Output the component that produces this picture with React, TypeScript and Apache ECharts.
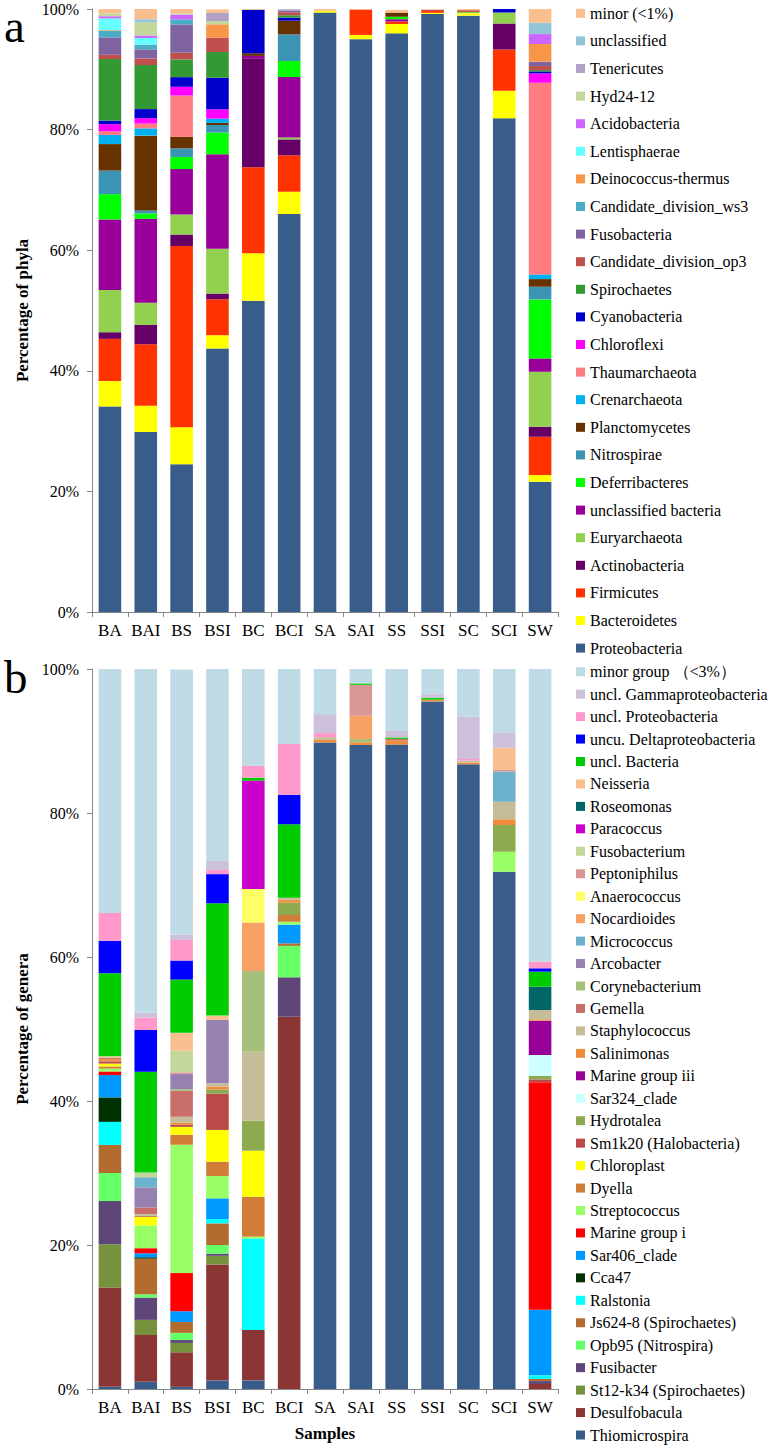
import React, { useEffect, useRef } from "react";
import * as echarts from "echarts";

const samples = ["BA", "BAI", "BS", "BSI", "BC", "BCI", "SA", "SAI", "SS", "SSI", "SC", "SCI", "SW"];

// ---------- Panel a: phyla (stack order bottom -> top) ----------
const proteobacteria = [34.1, 29.85, 24.5, 43.7, 51.6, 66.0, 99.4, 95.0, 95.96, 99.17, 98.9, 81.9, 21.6];
const bacteroidetes = [4.2, 4.35, 6.15, 2.2, 7.9, 3.7, 0.3, 0.7, 1.55, 0.2, 0.4, 4.54, 1.11];
const firmicutes = [7.0, 10.2, 30.05, 5.96, 14.26, 6.03, 0, 4.2, 0.4, 0.3, 0, 6.84, 6.35];
const actinobacteria = [1.1, 3.2, 1.9, 0.95, 18.06, 2.65, 0, 0, 0, 0, 0, 4.3, 1.66];
const euryarchaeota = [7.0, 3.7, 3.3, 7.45, 0, 0.33, 0, 0, 0, 0, 0.2, 1.85, 9.12];
const unclassifiedBacteria = [11.7, 13.9, 7.55, 15.65, 0.4, 10.0, 0, 0, 0.4, 0, 0, 0, 2.22];
const deferribacteres = [4.2, 0.9, 2.0, 3.6, 0, 2.66, 0, 0, 0.4, 0, 0, 0, 9.78];
const nitrospirae = [3.9, 0.5, 1.45, 1.25, 0, 4.42, 0, 0, 0, 0, 0, 0, 2.1];
const planctomycetes = [4.4, 12.4, 1.9, 0.35, 0.45, 2.27, 0, 0, 0.7, 0, 0, 0, 1.27];
const crenarchaeota = [1.5, 1.2, 0, 0.7, 0, 0, 0, 0, 0, 0, 0, 0, 0.78];
const thaumarchaeota = [0.6, 0.8, 6.85, 0, 0, 0, 0, 0, 0, 0, 0, 0, 31.78];
const chloroflexi = [1.2, 0.9, 1.45, 1.55, 0, 0, 0, 0, 0, 0, 0, 0, 1.55];
const cyanobacteria = [0.6, 1.5, 1.6, 5.25, 7.2, 0.5, 0, 0, 0, 0, 0, 0.55, 0.33];
const spirochaetes = [10.2, 7.3, 2.95, 4.25, 0, 0.4, 0, 0, 0, 0, 0, 0, 0.22];
const candidateOp3 = [0.7, 1.1, 1.1, 2.4, 0, 0.5, 0, 0, 0, 0.2, 0.3, 0, 0.67];
const fusobacteria = [2.9, 1.5, 4.7, 0, 0, 0.3, 0, 0, 0, 0, 0, 0, 0.72];
const candidateWs3 = [1.1, 0.8, 0.83, 0, 0, 0, 0, 0, 0, 0, 0, 0, 0];
const deinococcus = [0.1, 0, 0, 2.2, 0, 0, 0, 0, 0, 0, 0, 0, 2.93];
const lentisphaerae = [1.95, 1.1, 0, 0, 0, 0, 0, 0, 0, 0, 0, 0, 0];
const acidobacteria = [0.35, 0.4, 0.8, 0, 0, 0, 0, 0, 0, 0, 0, 0, 1.65];
const hyd2412 = [0.5, 2.2, 0.2, 0.55, 0, 0, 0, 0, 0, 0, 0, 0, 0];
const tenericutes = [0, 0, 0, 1.33, 0, 0.2, 0, 0, 0, 0, 0, 0, 0];
const unclassified = [0, 0.5, 0, 0, 0, 0, 0, 0, 0, 0, 0, 0, 1.88];
const minorPhyla = [0.7, 1.7, 0.7, 0.6, 0.15, 0, 0.3, 0.1, 0.44, 0.1, 0.2, 0, 2.27];

const phylaNames = [
  "Proteobacteria", "Bacteroidetes", "Firmicutes", "Actinobacteria", "Euryarchaeota",
  "unclassified bacteria", "Deferribacteres", "Nitrospirae", "Planctomycetes", "Crenarchaeota",
  "Thaumarchaeota", "Chloroflexi", "Cyanobacteria", "Spirochaetes", "Candidate_division_op3",
  "Fusobacteria", "Candidate_division_ws3", "Deinococcus-thermus", "Lentisphaerae", "Acidobacteria",
  "Hyd24-12", "Tenericutes", "unclassified", "minor (<1%)",
];
const phylaColors = [
  "#385d8a", "#ffff00", "#ff3300", "#660066", "#92d050",
  "#990099", "#00ff00", "#3b94b4", "#663300", "#00b0f0",
  "#ff7c80", "#ff00ff", "#0000cc", "#339933", "#c0504d",
  "#8064a2", "#4bacc6", "#f79646", "#66ffff", "#cc66ff",
  "#c3d69b", "#b2a1c7", "#92c5d8", "#fabf8f",
];
const phylaValues = [
  proteobacteria, bacteroidetes, firmicutes, actinobacteria, euryarchaeota,
  unclassifiedBacteria, deferribacteres, nitrospirae, planctomycetes, crenarchaeota,
  thaumarchaeota, chloroflexi, cyanobacteria, spirochaetes, candidateOp3,
  fusobacteria, candidateWs3, deinococcus, lentisphaerae, acidobacteria,
  hyd2412, tenericutes, unclassified, minorPhyla,
];

// ---------- Panel b: genera (stack order bottom -> top) ----------
const thiomicrospira = [0.3, 1.0, 0.3, 1.2, 1.2, 0, 89.8, 89.45, 89.5, 95.5, 86.76, 71.85, 0];
const desulfobacula = [13.8, 6.5, 4.8, 16.1, 7.0, 51.7, 0, 0, 0, 0, 0, 0, 0.7];
const st12k34 = [6.0, 2.1, 1.3, 1.2, 0, 0, 0, 0, 0, 0, 0, 0, 0];
const fusibacter = [6.0, 3.1, 0.4, 0.3, 0, 5.48, 0, 0, 0, 0, 0, 0, 0.4];
const opb95 = [3.9, 0.45, 1.0, 1.2, 0, 4.37, 0, 0, 0, 0, 0, 0, 0];
const js6248 = [3.9, 4.95, 1.5, 3.0, 0, 0.35, 0, 0, 0, 0, 0, 0, 0.3];
const ralstonia = [3.2, 0, 0, 0.6, 12.7, 0, 0, 0, 0, 0, 0, 0, 0.5];
const cca47 = [3.4, 0.2, 0, 0, 0, 0, 0, 0, 0, 0, 0, 0, 0];
const sar406 = [3.1, 0.55, 1.5, 2.88, 0, 2.6, 0, 0, 0, 0, 0, 0, 9.1];
const marineGroupI = [0.5, 0.7, 5.3, 0, 0, 0, 0, 0, 0, 0, 0, 0, 31.6];
const streptococcus = [0.4, 3.16, 17.82, 3.1, 0.26, 0.4, 0, 0, 0, 0, 0, 2.78, 0];
const dyella = [0.3, 0, 1.39, 2.0, 5.55, 0.93, 0, 0, 0, 0, 0, 0, 0];
const chloroplast = [0.4, 1.2, 1.1, 4.4, 6.39, 0, 0, 0, 0, 0, 0, 0, 0];
const sm1k20 = [0.3, 0.1, 0.3, 5.03, 0, 0, 0, 0, 0, 0, 0, 0, 0.4];
const hydrotalea = [0, 0.1, 0, 0.6, 4.17, 1.72, 0, 0, 0, 0, 0, 3.7, 0.47];
const sar324 = [0, 0, 0, 0, 0, 0, 0, 0, 0, 0, 0, 0, 2.92];
const marineGroupIII = [0, 0, 0, 0, 0, 0, 0, 0, 0, 0, 0, 0, 4.76];
const salinimonas = [0.3, 0, 0.3, 0.4, 0, 0.35, 0.35, 0.37, 0.6, 0.25, 0.25, 0.79, 0.19];
const staphylococcus = [0, 0.2, 0.8, 0.45, 9.58, 0.34, 0.38, 0, 0, 0, 0.26, 2.45, 1.3];
const gemella = [0.2, 0.9, 3.6, 0, 0, 0, 0, 0, 0.2, 0, 0, 0, 0];
const corynebacterium = [0, 0, 0.23, 0, 11.21, 0, 0, 0.46, 0, 0, 0, 0, 0];
const arcobacter = [0, 2.8, 2.1, 8.8, 0, 0, 0, 0, 0, 0, 0, 0, 0];
const micrococcus = [0, 1.4, 0, 0, 0, 0, 0, 0, 0, 0, 0, 4.18, 0];
const nocardioides = [0, 0, 0, 0, 6.74, 0, 0, 3.22, 0, 0, 0, 0, 0];
const anaerococcus = [0, 0, 0, 0, 4.64, 0, 0, 0, 0, 0, 0, 0, 0];
const peptoniphilus = [0, 0, 0.23, 0, 0, 0, 0, 4.3, 0, 0, 0, 0.22, 0];
const fusobacterium = [0, 0.65, 3.0, 0, 0, 0, 0, 0, 0, 0, 0, 0, 0];
const paracoccus = [0, 0, 0, 0, 15.06, 0, 0, 0, 0, 0, 0, 0, 0];
const roseomonas = [0, 0, 0, 0, 0, 0, 0, 0, 0, 0, 0, 0, 3.24];
const neisseria = [0.2, 0, 2.5, 0.6, 0, 0, 0, 0, 0, 0, 0, 3.1, 0];
const unclBacteria = [11.55, 14.0, 7.4, 15.6, 0.4, 10.19, 0, 0.2, 0.2, 0.25, 0, 0, 2.08];
const uncuDelta = [4.5, 5.8, 2.64, 4.05, 0, 4.07, 0, 0, 0, 0, 0, 0, 0.47];
const unclProteo = [3.87, 1.74, 2.87, 0.58, 1.67, 7.08, 0.57, 0, 0, 0, 0.23, 0, 0.92];
const unclGamma = [0, 0.66, 0.7, 1.25, 0, 0, 2.63, 0, 0.9, 0.5, 5.88, 2.13, 0];
const minorGenera = [33.93, 47.74, 36.85, 26.67, 13.43, 10.42, 6.3, 2.0, 8.6, 3.5, 6.62, 8.8, 40.65];

const generaNames = [
  "Thiomicrospira", "Desulfobacula", "St12-k34 (Spirochaetes)", "Fusibacter", "Opb95 (Nitrospira)",
  "Js624-8 (Spirochaetes)", "Ralstonia", "Cca47", "Sar406_clade", "Marine group i",
  "Streptococcus", "Dyella", "Chloroplast", "Sm1k20 (Halobacteria)", "Hydrotalea",
  "Sar324_clade", "Marine group iii", "Salinimonas", "Staphylococcus", "Gemella",
  "Corynebacterium", "Arcobacter", "Micrococcus", "Nocardioides", "Anaerococcus",
  "Peptoniphilus", "Fusobacterium", "Paracoccus", "Roseomonas", "Neisseria",
  "uncl. Bacteria", "uncu. Deltaproteobacteria", "uncl. Proteobacteria", "uncl. Gammaproteobacteria",
  "minor group （<3%）",
];
const generaColors = [
  "#385d8a", "#8b3535", "#76923c", "#5e4678", "#66ff66",
  "#b36b2f", "#00ffff", "#003300", "#0099ff", "#ff0000",
  "#99ff66", "#d27d37", "#ffff00", "#b94a48", "#8eaa50",
  "#ccffff", "#990099", "#ef8b3c", "#c4bd97", "#c96e6b",
  "#a4c07a", "#9681b0", "#6db2cc", "#f7a164", "#ffff66",
  "#da9694", "#c4d79b", "#cc00cc", "#006666", "#fabf8f",
  "#00cc00", "#0000ff", "#ff99cc", "#ccc0da",
  "#bfdbe5",
];
const generaValues = [
  thiomicrospira, desulfobacula, st12k34, fusibacter, opb95,
  js6248, ralstonia, cca47, sar406, marineGroupI,
  streptococcus, dyella, chloroplast, sm1k20, hydrotalea,
  sar324, marineGroupIII, salinimonas, staphylococcus, gemella,
  corynebacterium, arcobacter, micrococcus, nocardioides, anaerococcus,
  peptoniphilus, fusobacterium, paracoccus, roseomonas, neisseria,
  unclBacteria, uncuDelta, unclProteo, unclGamma,
  minorGenera,
];

const yTicks = [0, 20, 40, 60, 80, 100];

const SERIF = "Liberation Serif";
const AXIS_GRAY = "#868686";

export default function App() {
  const ref = useRef<HTMLDivElement>(null);

  useEffect(() => {
    if (!ref.current) return;
    const chart = echarts.init(ref.current, null, { renderer: "svg" });

    const makeX = (gridIndex: number, name: string) => ({
      type: "category",
      gridIndex,
      data: samples,
      name,
      nameLocation: "middle",
      nameGap: 36,
      nameTextStyle: { fontFamily: SERIF, fontWeight: "bold", fontSize: 17, color: "#000" },
      axisLine: { show: true, lineStyle: { color: AXIS_GRAY, width: 1 } },
      axisTick: { show: true, alignWithLabel: false, interval: 0, length: 5, lineStyle: { color: AXIS_GRAY } },
      axisLabel: { interval: 0, fontFamily: SERIF, fontSize: 17, color: "#000", margin: 10 },
      splitLine: { show: false },
    });
    const makeY = (gridIndex: number, name: string) => ({
      type: "value",
      gridIndex,
      min: yTicks[0],
      max: yTicks[yTicks.length - 1],
      interval: 20,
      name,
      nameLocation: "middle",
      nameRotate: 90,
      nameGap: 58,
      nameTextStyle: { fontFamily: SERIF, fontWeight: "bold", fontSize: 17, color: "#000" },
      axisLine: { show: true, lineStyle: { color: AXIS_GRAY, width: 1 } },
      axisTick: { show: true, length: 5, lineStyle: { color: AXIS_GRAY } },
      axisLabel: { formatter: "{value}%", fontFamily: SERIF, fontSize: 16, color: "#000", margin: 13 },
      splitLine: { show: false },
    });

    const series: any[] = [];
    phylaNames.forEach((n, i) => {
      series.push({
        name: n,
        type: "bar",
        stack: "a",
        xAxisIndex: 0,
        yAxisIndex: 0,
        barCategoryGap: "37%",
        data: phylaValues[i],
        itemStyle: { color: phylaColors[i] },
        emphasis: { disabled: true },
      });
    });
    generaNames.forEach((n, i) => {
      series.push({
        name: n,
        type: "bar",
        stack: "b",
        xAxisIndex: 1,
        yAxisIndex: 1,
        barCategoryGap: "37%",
        data: generaValues[i],
        itemStyle: { color: generaColors[i] },
        emphasis: { disabled: true },
      });
    });

    const legendCommon = {
      orient: "vertical",
      left: 576,
      padding: 0,
      icon: "rect",
      itemWidth: 9,
      itemHeight: 9,
      itemTextGap: 3,
      selectedMode: false,
      textStyle: { fontFamily: SERIF, fontSize: 16, color: "#000", lineHeight: 18 },
    };

    chart.setOption({
      animation: false,
      backgroundColor: "#fff",
      grid: [
        { left: 92, top: 9, width: 466, height: 603 },
        { left: 92, top: 669, width: 466, height: 720 },
      ],
      xAxis: [makeX(0, ""), makeX(1, "Samples")],
      yAxis: [makeY(0, "Percentage of phyla"), makeY(1, "Percentage of genera")],
      legend: [
        { ...legendCommon, top: 4.3, height: 660, itemGap: 9.6, data: [...phylaNames].reverse() },
        { ...legendCommon, top: 662.7, height: 790, itemGap: 4.45, data: [...generaNames].reverse() },
      ],
      graphic: [
        { type: "text", left: 4, top: 2, style: { text: "a", fontFamily: SERIF, fontSize: 47, fill: "#000" } },
        { type: "text", left: 4, top: 653, style: { text: "b", fontFamily: SERIF, fontSize: 47, fill: "#000" } },
      ],
      series,
    });

    return () => chart.dispose();
  }, []);

  return (
    <div
      ref={ref}
      style={{ position: "absolute", left: 0, top: 0, width: 775, height: 1448, background: "#fff" }}
    />
  );
}
